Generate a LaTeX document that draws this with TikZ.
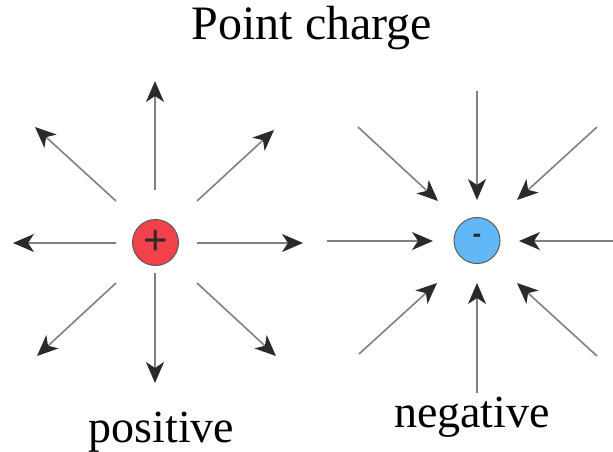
\documentclass[tikz,border=0pt]{standalone}
\usepackage{fontspec}
\setmainfont{Liberation Serif}
\newfontfamily\signfont{Liberation Sans}
\usetikzlibrary{arrows.meta}
\definecolor{fieldline}{HTML}{808080}
\definecolor{tipcol}{HTML}{2A2A2A}
\definecolor{posfill}{HTML}{F2414B}
\definecolor{negfill}{HTML}{62B8F7}
\definecolor{rimcol}{HTML}{5A5A5A}
\tikzset{
  fieldarrow/.style={draw=fieldline, line width=1.6pt,
    -{Stealth[length=21pt,width=18pt,inset=6pt,color=tipcol]}},
  chargeball/.style={circle, draw=rimcol, line width=1pt, minimum size=46pt, inner sep=0pt},
  labeltext/.style={font=\fontsize{46}{46}\selectfont, anchor=base, inner sep=0pt},
}
\begin{document}
\begin{tikzpicture}[x=1pt,y=-1pt]
\useasboundingbox (0,0) rectangle (613,451);
\begin{scope}
\clip (0,0) rectangle (613,451);
% charges
\node[chargeball, fill=posfill] (pos) at (155.5,242.5) {};
\node[font=\signfont\fontsize{42}{42}\selectfont, text=tipcol, inner sep=0pt] (plus) at (155.5,242.5) {+};
\node[chargeball, fill=negfill] (neg) at (477,240.5) {};
\node[font=\signfont\bfseries\fontsize{26}{26}\selectfont, text=tipcol, inner sep=0pt] (minus) at (477,238) {-};
% field lines: start -> end
\foreach \n/\sx/\sy/\ex/\ey in {
  pu/155/190/155/81, pul/116/201/35/127, pur/197/201/274/130,
  pl/116/243/13/243, pr/197/243/303/243,
  pd/155/273/155/383, pdl/116/283/37/356, pdr/197/283/276/356,
  nu/477/91/477/200, nul/358/127/438/201, nur/597/127/517/200,
  nl/327/241/433/241, nr/640/241/519/241,
  nd/477/393/477/283, ndl/359/354/437/283, ndr/597/356/517/283}{
  \coordinate (\n s) at (\sx,\sy);
  \coordinate (\n e) at (\ex,\ey);
  \draw[fieldarrow] (\n s) -- (\n e);
}
\end{scope}
% texts
\node[labeltext, font=\fontsize{48}{48}\selectfont] (title) at (312,39) {Point charge};
\node[labeltext] (poslabel) at (161.5,442) {positive};
\node[labeltext] (neglabel) at (472,427) {negative};
\end{tikzpicture}
\end{document}
